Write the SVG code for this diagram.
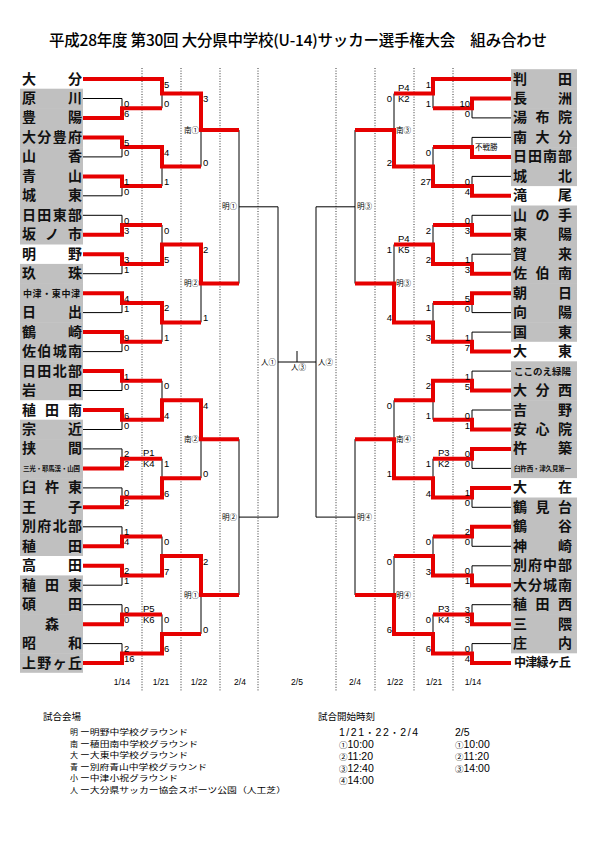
<svg xmlns="http://www.w3.org/2000/svg" width="595" height="842" viewBox="0 0 595 842">
<style>
.nm{font-family:"Noto Sans CJK JP","Noto Sans CJK SC",sans-serif;font-size:14px;font-weight:700;fill:#111}
.gb{fill:#c0c0c0}
.sc{font-family:"Liberation Sans",Arial,"Noto Sans CJK JP",sans-serif;font-size:9.5px;fill:#000}
.e{text-anchor:end}
.vn{font-family:"Noto Sans CJK JP",sans-serif;font-size:7.5px;fill:#000}
.dt{font-family:"Liberation Sans",Arial,sans-serif;font-size:8.5px;text-anchor:middle;fill:#000}
.lh{font-family:"Noto Sans CJK JP",sans-serif;font-size:9.5px;fill:#000}
.lg{font-family:"Noto Sans CJK JP",sans-serif;font-size:8px;fill:#000}
.tm{font-family:"Liberation Sans",Arial,sans-serif;font-size:10.5px;fill:#000}
.cj{font-family:"Noto Sans CJK JP",sans-serif;font-size:8.5px}
.blk{fill:none;stroke:#000;stroke-width:1}
.red{fill:none;stroke:#e60000;stroke-width:4;stroke-linejoin:miter}
.dot{stroke:#000;stroke-width:0.8;stroke-dasharray:1 1.6}
</style>
<rect width="595" height="842" fill="#fff"/>
<text x="49" y="46" textLength="498" lengthAdjust="spacing" style="font-family:'Noto Sans CJK JP',sans-serif;font-size:15.5px;font-weight:500">平成28年度 第30回 大分県中学校(U-14)サッカー選手権大会　組み合わせ</text>

<g id="grid">
<line class="dot" x1="142" y1="68" x2="142" y2="691"/>
<line class="dot" x1="181" y1="68" x2="181" y2="691"/>
<line class="dot" x1="220" y1="68" x2="220" y2="691"/>
<line class="dot" x1="258" y1="68" x2="258" y2="691"/>
<line class="dot" x1="336" y1="68" x2="336" y2="691"/>
<line class="dot" x1="375" y1="68" x2="375" y2="691"/>
<line class="dot" x1="414" y1="68" x2="414" y2="691"/>
<line class="dot" x1="453" y1="68" x2="453" y2="691"/>
</g>

<!-- left teams -->
<g id="L01"><text class="nm" x="22 68" y="83.5">大分</text></g>
<g id="L02"><rect class="gb" x="20" y="88.7" width="63" height="20"/><text class="nm" x="22 68" y="103">原川</text></g>
<g id="L03"><rect class="gb" x="20" y="108.1" width="63" height="20"/><text class="nm" x="22 68" y="122.4">豊陽</text></g>
<g id="L04"><rect class="gb" x="20" y="127.6" width="63" height="20"/><text class="nm" x="22 37.3 52.7 68" y="141.9">大分豊府</text></g>
<g id="L05"><rect class="gb" x="20" y="147.1" width="63" height="20"/><text class="nm" x="22 68" y="161.4">山香</text></g>
<g id="L06"><rect class="gb" x="20" y="166.6" width="63" height="20"/><text class="nm" x="22 68" y="180.9">青山</text></g>
<g id="L07"><rect class="gb" x="20" y="186" width="63" height="20"/><text class="nm" x="22 68" y="200.3">城東</text></g>
<g id="L08"><rect class="gb" x="20" y="205.5" width="63" height="20"/><text class="nm" x="22 37.3 52.7 68" y="219.8">日田東部</text></g>
<g id="L09"><rect class="gb" x="20" y="225" width="63" height="19.5"/><text class="nm" x="22 45 68" y="239.3">坂ノ市</text></g>
<g id="L10"><text class="nm" x="22 68" y="258.7">明野</text></g>
<g id="L11"><rect class="gb" x="20" y="263.9" width="63" height="20"/><text class="nm" x="22 68" y="278.2">玖珠</text></g>
<g id="L12"><rect class="gb" x="20" y="283.4" width="63" height="20"/><text class="nm" x="23" y="296.6" textLength="57" lengthAdjust="spacing" style="font-size:9px">中津・東中津</text></g>
<g id="L13"><rect class="gb" x="20" y="302.8" width="63" height="20"/><text class="nm" x="22 68" y="317.1">日出</text></g>
<g id="L14"><rect class="gb" x="20" y="322.3" width="63" height="20"/><text class="nm" x="22 68" y="336.6">鶴崎</text></g>
<g id="L15"><rect class="gb" x="20" y="341.8" width="63" height="20"/><text class="nm" x="22 37.3 52.7 68" y="356.1">佐伯城南</text></g>
<g id="L16"><rect class="gb" x="20" y="361.3" width="63" height="20"/><text class="nm" x="22 37.3 52.7 68" y="375.6">日田北部</text></g>
<g id="L17"><rect class="gb" x="20" y="380.7" width="63" height="19.5"/><text class="nm" x="22 68" y="395">岩田</text></g>
<g id="L18"><text class="nm" x="22 45 68" y="414.5">稙田南</text></g>
<g id="L19"><rect class="gb" x="20" y="419.7" width="63" height="20"/><text class="nm" x="22 68" y="434">宗近</text></g>
<g id="L20"><rect class="gb" x="20" y="439.1" width="63" height="20"/><text class="nm" x="22 68" y="453.4">挟間</text></g>
<g id="L21"><rect class="gb" x="20" y="458.6" width="63" height="20"/><text class="nm" x="23" y="470.8" textLength="57" lengthAdjust="spacing" style="font-size:6.5px">三光・耶馬渓・山国</text></g>
<g id="L22"><rect class="gb" x="20" y="478.1" width="63" height="20"/><text class="nm" x="22 45 68" y="492.4">臼杵東</text></g>
<g id="L23"><rect class="gb" x="20" y="497.5" width="63" height="20"/><text class="nm" x="22 68" y="511.8">王子</text></g>
<g id="L24"><rect class="gb" x="20" y="517" width="63" height="20"/><text class="nm" x="22 37.3 52.7 68" y="531.3">別府北部</text></g>
<g id="L25"><rect class="gb" x="20" y="536.5" width="63" height="19.5"/><text class="nm" x="22 68" y="550.8">稙田</text></g>
<g id="L26"><text class="nm" x="22 68" y="570.3">高田</text></g>
<g id="L27"><rect class="gb" x="20" y="575.4" width="63" height="20"/><text class="nm" x="22 45 68" y="589.7">稙田東</text></g>
<g id="L28"><rect class="gb" x="20" y="594.9" width="63" height="20"/><text class="nm" x="22 68" y="609.2">碩田</text></g>
<g id="L29"><rect class="gb" x="20" y="614.4" width="63" height="20"/><text class="nm" x="45" y="628.7">森</text></g>
<g id="L30"><rect class="gb" x="20" y="633.8" width="63" height="20"/><text class="nm" x="22 68" y="648.1">昭和</text></g>
<g id="L31"><rect class="gb" x="20" y="653.3" width="63" height="19.5"/><text class="nm" x="22 37.3 52.7 68" y="667.6">上野ヶ丘</text></g>

<!-- right teams -->
<g id="R01"><rect class="gb" x="511" y="69.2" width="66" height="20"/><text class="nm" x="513 558" y="83.5">判田</text></g>
<g id="R02"><rect class="gb" x="511" y="88.7" width="66" height="20"/><text class="nm" x="513 558" y="103">長洲</text></g>
<g id="R03"><rect class="gb" x="511" y="108.1" width="66" height="20"/><text class="nm" x="513 535.5 558" y="122.4">湯布院</text></g>
<g id="R04"><rect class="gb" x="511" y="127.6" width="66" height="20"/><text class="nm" x="513 535.5 558" y="141.9">南大分</text></g>
<g id="R05"><rect class="gb" x="511" y="147.1" width="66" height="20"/><text class="nm" x="513 528 543 558" y="161.4">日田南部</text></g>
<g id="R06"><rect class="gb" x="511" y="166.6" width="66" height="19.5"/><text class="nm" x="513 558" y="180.9">城北</text></g>
<g id="R07"><text class="nm" x="513 558" y="200.3">滝尾</text></g>
<g id="R08"><rect class="gb" x="511" y="205.5" width="66" height="20"/><text class="nm" x="513 535.5 558" y="219.8">山の手</text></g>
<g id="R09"><rect class="gb" x="511" y="225" width="66" height="20"/><text class="nm" x="513 558" y="239.3">東陽</text></g>
<g id="R10"><rect class="gb" x="511" y="244.4" width="66" height="20"/><text class="nm" x="513 558" y="258.7">賀来</text></g>
<g id="R11"><rect class="gb" x="511" y="263.9" width="66" height="20"/><text class="nm" x="513 535.5 558" y="278.2">佐伯南</text></g>
<g id="R12"><rect class="gb" x="511" y="283.4" width="66" height="20"/><text class="nm" x="513 558" y="297.7">朝日</text></g>
<g id="R13"><rect class="gb" x="511" y="302.8" width="66" height="20"/><text class="nm" x="513 558" y="317.1">向陽</text></g>
<g id="R14"><rect class="gb" x="511" y="322.3" width="66" height="19.5"/><text class="nm" x="513 558" y="336.6">国東</text></g>
<g id="R15"><text class="nm" x="513 558" y="356.1">大東</text></g>
<g id="R16"><rect class="gb" x="511" y="361.3" width="66" height="20"/><text class="nm" x="514" y="374.8" textLength="57" lengthAdjust="spacing" style="font-size:9.5px">ここのえ緑陽</text></g>
<g id="R17"><rect class="gb" x="511" y="380.7" width="66" height="20"/><text class="nm" x="513 535.5 558" y="395">大分西</text></g>
<g id="R18"><rect class="gb" x="511" y="400.2" width="66" height="20"/><text class="nm" x="513 558" y="414.5">吉野</text></g>
<g id="R19"><rect class="gb" x="511" y="419.7" width="66" height="20"/><text class="nm" x="513 535.5 558" y="434">安心院</text></g>
<g id="R20"><rect class="gb" x="511" y="439.1" width="66" height="20"/><text class="nm" x="513 558" y="453.4">杵築</text></g>
<g id="R21"><rect class="gb" x="511" y="458.6" width="66" height="19.5"/><text class="nm" x="514" y="470.8" textLength="57" lengthAdjust="spacing" style="font-size:6.5px">臼杵西・津久見第一</text></g>
<g id="R22"><text class="nm" x="513 558" y="492.4">大在</text></g>
<g id="R23"><rect class="gb" x="511" y="497.5" width="66" height="20"/><text class="nm" x="513 535.5 558" y="511.8">鶴見台</text></g>
<g id="R24"><rect class="gb" x="511" y="517" width="66" height="20"/><text class="nm" x="513 558" y="531.3">鶴谷</text></g>
<g id="R25"><rect class="gb" x="511" y="536.5" width="66" height="20"/><text class="nm" x="513 558" y="550.8">神崎</text></g>
<g id="R26"><rect class="gb" x="511" y="556" width="66" height="20"/><text class="nm" x="513 528 543 558" y="570.3">別府中部</text></g>
<g id="R27"><rect class="gb" x="511" y="575.4" width="66" height="20"/><text class="nm" x="513 528 543 558" y="589.7">大分城南</text></g>
<g id="R28"><rect class="gb" x="511" y="594.9" width="66" height="20"/><text class="nm" x="513 535.5 558" y="609.2">稙田西</text></g>
<g id="R29"><rect class="gb" x="511" y="614.4" width="66" height="20"/><text class="nm" x="513 558" y="628.7">三隈</text></g>
<g id="R30"><rect class="gb" x="511" y="633.8" width="66" height="19.5"/><text class="nm" x="513 558" y="648.1">庄内</text></g>
<g id="R31"><text class="nm" x="514 525.25 536.5 547.75 559" y="667.3" style="font-size:12px">中津緑ヶ丘</text></g>

<g id="connectors">
<path class="blk" d="M83 79H162
M83 98.5H122V117.9H83M122 108.2H162
M83 137.4H122V156.9H83M122 147.1H162
M83 176.4H122V195.8H83M122 186.1H162
M83 215.3H122V234.8H83M122 225H162
M83 254.2H122V273.7H83M122 264H162
M83 293.2H122V312.6H83M122 302.9H162
M83 332.1H122V351.6H83M122 341.8H162
M83 371.1H122V390.5H83M122 380.8H162
M83 410H122V429.5H83M122 419.7H162
M83 448.9H122V468.4H83M122 458.7H162
M83 487.9H122V507.3H83M122 497.6H162
M83 526.8H122V546.3H83M122 536.5H162
M83 565.8H122V585.2H83M122 575.5H162
M83 604.7H122V624.2H83M122 614.4H162
M83 643.6H122V663.1H83M122 653.4H162
M162 79V108.2M162 93.6H201
M162 147.1V186.1M162 166.6H201
M162 225V264M162 244.5H201
M162 302.9V341.8M162 322.4H201
M162 380.8V419.7M162 400.3H201
M162 458.7V497.6M162 478.2H201
M162 536.5V575.5M162 556H201
M162 614.4V653.4M162 633.9H201
M201 93.6V166.6M201 130.1H239
M201 244.5V322.4M201 283.5H239
M201 400.3V478.2M201 439.2H239
M201 556V633.9M201 595H239
M239 130.1V283.5M239 206.8H278
M239 439.2V595M239 517.1H278
M278 206.8V517.1M278 362H316M297 351V362
M316 206.8V517.1
M355 130.1V283.5M355 206.8H316
M355 439.2V595M355 517.1H316
M394 93.6V166.6M394 130.1H355
M394 244.5V322.4M394 283.5H355
M394 400.3V478.2M394 439.2H355
M394 556V633.9M394 595H355
M433 79V108.2M433 93.6H394
M433 147.1V186.1M433 166.6H394
M433 225V264M433 244.5H394
M433 302.9V341.8M433 322.4H394
M433 380.8V419.7M433 400.3H394
M433 458.7V497.6M433 478.2H394
M433 536.5V575.5M433 556H394
M433 614.4V653.4M433 633.9H394
M511 79H433
M511 98.5H472V117.9H511M472 108.2H433
M511 137.4H472V156.9H511M472 147.1H433
M511 176.4H472V195.8H511M472 186.1H433
M511 215.3H472V234.8H511M472 225H433
M511 254.2H472V273.7H511M472 264H433
M511 293.2H472V312.6H511M472 302.9H433
M511 332.1H472V351.6H511M472 341.8H433
M511 371.1H472V390.5H511M472 380.8H433
M511 410H472V429.5H511M472 419.7H433
M511 448.9H472V468.4H511M472 458.7H433
M511 487.9H472V507.3H511M472 497.6H433
M511 526.8H472V546.3H511M472 536.5H433
M511 565.8H472V585.2H511M472 575.5H433
M511 604.7H472V624.2H511M472 614.4H433
M511 643.6H472V663.1H511M472 653.4H433"/>
<path class="red" d="M83 79H162V93.6H201V130.1H239
M83 117.9H122V108.2H162
M83 137.4H122V147.1H162V166.6H201
M83 176.4H122V186.1H162
M83 234.8H122V225H162
M83 254.2H122V264H162V244.5H201V283.5H239
M83 293.2H122V302.9H162V322.4H201
M83 332.1H122V341.8H162
M83 371.1H122V380.8H162
M83 410H122V419.7H162V400.3H201V439.2H239
M83 468.4H122V458.7H162
M83 507.3H122V497.6H162V478.2H201
M83 546.3H122V536.5H162
M83 565.8H122V575.5H162V556H201V595H239
M83 624.2H122V614.4H162
M83 663.1H122V653.4H162V633.9H201
M511 79H433V93.6H394
M511 98.5H472V108.2H433
M511 156.9H472V147.1H433
M511 195.8H472V186.1H433V166.6H394V130.1H355
M511 234.8H472V225H433
M511 273.7H472V264H433V244.5H394
M511 293.2H472V302.9H433
M511 351.6H472V341.8H433V322.4H394V283.5H355
M511 390.5H472V380.8H433V400.3H394
M511 429.5H472V419.7H433
M511 448.9H472V458.7H433
M511 487.9H472V497.6H433V478.2H394V439.2H355
M511 526.8H472V536.5H433
M511 585.2H472V575.5H433V556H394
M511 624.2H472V614.4H433
M511 663.1H472V653.4H433V633.9H394V595H355"/>
</g>

<g id="scores-left" class="sc">
<text x="124" y="107">0</text><text x="124" y="116.9">6</text>
<text x="124" y="145.9">5</text><text x="124" y="155.9">0</text>
<text x="124" y="184.9">1</text><text x="124" y="194.8">0</text>
<text x="124" y="223.8">0</text><text x="124" y="233.8">3</text>
<text x="124" y="262.7">3</text><text x="124" y="272.7">1</text>
<text x="124" y="301.7">4</text><text x="124" y="311.6">1</text>
<text x="124" y="340.6">9</text><text x="124" y="350.6">0</text>
<text x="124" y="379.6">1</text><text x="124" y="389.5">0</text>
<text x="124" y="418.5">6</text><text x="124" y="428.5">0</text>
<text x="124" y="457.4">2</text><text x="124" y="467.4">2</text>
<text x="124" y="496.4">0</text><text x="124" y="506.3">2</text>
<text x="124" y="535.3">1</text><text x="124" y="545.3">4</text>
<text x="124" y="574.3">2</text><text x="124" y="584.2">1</text>
<text x="124" y="613.2">0</text><text x="124" y="623.2">0</text>
<text x="124" y="652.1">2</text><text x="124" y="662.1">16</text>
<text x="164" y="87.5">5</text><text x="164" y="107.2">0</text>
<text x="164" y="155.6">4</text><text x="164" y="185.1">1</text>
<text x="164" y="233.5">0</text><text x="164" y="263">5</text>
<text x="164" y="311.4">2</text><text x="164" y="340.8">1</text>
<text x="164" y="389.3">0</text><text x="164" y="418.7">4</text>
<text x="164" y="467.2">1</text><text x="164" y="496.6">6</text>
<text x="164" y="545">0</text><text x="164" y="574.5">7</text>
<text x="164" y="622.9">0</text><text x="164" y="652.4">6</text>
<text x="203" y="102.1">3</text><text x="203" y="165.6">0</text>
<text x="203" y="253">2</text><text x="203" y="321.4">1</text>
<text x="203" y="408.8">4</text><text x="203" y="477.2">0</text>
<text x="203" y="564.5">2</text><text x="203" y="632.9">0</text>
<text x="143" y="456">P1</text><text x="143" y="467.4">K4</text>
<text x="143" y="611.7">P5</text><text x="143" y="623.1">K6</text>
</g>

<g id="scores-right" class="sc e">
<text x="470" y="107">10</text><text x="470" y="116.9">0</text>
<text x="470" y="184.9">0</text><text x="470" y="194.8">4</text>
<text x="470" y="223.8">0</text><text x="470" y="233.8">3</text>
<text x="470" y="262.7">1</text><text x="470" y="272.7">3</text>
<text x="470" y="301.7">5</text><text x="470" y="311.6">0</text>
<text x="470" y="340.6">1</text><text x="470" y="350.6">7</text>
<text x="470" y="379.6">1</text><text x="470" y="389.5">5</text>
<text x="470" y="418.5">0</text><text x="470" y="428.5">1</text>
<text x="470" y="457.4">0</text><text x="470" y="467.4">0</text>
<text x="470" y="496.4">1</text><text x="470" y="506.3">0</text>
<text x="470" y="535.3">2</text><text x="470" y="545.3">0</text>
<text x="470" y="574.3">0</text><text x="470" y="584.2">1</text>
<text x="470" y="613.2">3</text><text x="470" y="623.2">3</text>
<text x="470" y="652.1">0</text><text x="470" y="662.1">4</text>
<text x="431" y="87.5">1</text><text x="431" y="107.2">1</text>
<text x="431" y="155.6">0</text><text x="431" y="185.1">27</text>
<text x="431" y="233.5">2</text><text x="431" y="263">2</text>
<text x="431" y="311.4">1</text><text x="431" y="340.8">3</text>
<text x="431" y="389.3">2</text><text x="431" y="418.7">1</text>
<text x="431" y="467.2">1</text><text x="431" y="496.6">4</text>
<text x="431" y="545">0</text><text x="431" y="574.5">3</text>
<text x="431" y="622.9">0</text><text x="431" y="652.4">6</text>
<text x="392" y="102.1">0</text><text x="392" y="165.6">2</text>
<text x="392" y="253">1</text><text x="392" y="321.4">4</text>
<text x="392" y="408.8">0</text><text x="392" y="477.2">1</text>
<text x="392" y="564.5">0</text><text x="392" y="632.9">6</text>
</g>
<g id="pk-right" class="sc">
<text x="398" y="91">P4</text><text x="398" y="102.3">K2</text>
<text x="398" y="241.9">P4</text><text x="398" y="253.2">K5</text>
<text x="438" y="456">P3</text><text x="438" y="467.4">K2</text>
<text x="438" y="611.7">P3</text><text x="438" y="623.1">K4</text>
</g>
<text class="vn" x="475" y="150" style="font-size:7.5px">不戦勝</text>

<g id="venues" class="vn">
<text x="199" y="132.6" text-anchor="end">南①</text>
<text x="199" y="286" text-anchor="end">明②</text>
<text x="199" y="441.7" text-anchor="end">南②</text>
<text x="199" y="597.5" text-anchor="end">明①</text>
<text x="237" y="209.3" text-anchor="end">明①</text>
<text x="237" y="519.6" text-anchor="end">明②</text>
<text x="276" y="364.5" text-anchor="end">人①</text>
<text x="396" y="132.6">南③</text>
<text x="396" y="286">明③</text>
<text x="396" y="441.7">南④</text>
<text x="396" y="597.5">明④</text>
<text x="357" y="209.3">明③</text>
<text x="357" y="519.6">明④</text>
<text x="318" y="364.5">人②</text>
<text x="298.5" y="370" text-anchor="middle">人③</text>
</g>

<g id="dates" class="dt">
<text x="122" y="685">1/14</text>
<text x="161" y="685">1/21</text>
<text x="199" y="685">1/22</text>
<text x="240" y="685">2/4</text>
<text x="297" y="685">2/5</text>
<text x="355" y="685">2/4</text>
<text x="395" y="685">1/22</text>
<text x="434" y="685">1/21</text>
<text x="473" y="685">1/14</text>
</g>

<g id="legend-venue">
<text class="lh" x="43" y="719.5">試合会場</text>
<text class="lg" x="70" y="735">明</text><text class="lg" x="80" y="735" textLength="108" lengthAdjust="spacingAndGlyphs">ー明野中学校グラウンド</text>
<text class="lg" x="70" y="746.5">南</text><text class="lg" x="80" y="746.5" textLength="118" lengthAdjust="spacingAndGlyphs">ー稙田南中学校グラウンド</text>
<text class="lg" x="70" y="758">大</text><text class="lg" x="80" y="758" textLength="108" lengthAdjust="spacingAndGlyphs">ー大東中学校グラウンド</text>
<text class="lg" x="70" y="769.5">青</text><text class="lg" x="80" y="769.5" textLength="127" lengthAdjust="spacingAndGlyphs">ー別府青山中学校グラウンド</text>
<text class="lg" x="70" y="781">小</text><text class="lg" x="80" y="781" textLength="98" lengthAdjust="spacingAndGlyphs">ー中津小祝グラウンド</text>
<text class="lg" x="70" y="792.5">人</text><text class="lg" x="80" y="792.5" textLength="206" lengthAdjust="spacingAndGlyphs">ー大分県サッカー協会スポーツ公園（人工芝）</text>
</g>
<g id="legend-time">
<text class="lh" x="318" y="719.5">試合開始時刻</text>
<text class="tm" x="339" y="736" textLength="79" lengthAdjust="spacing">1/21<tspan class="cj">・</tspan>22<tspan class="cj">・</tspan>2/4</text>
<text class="tm" x="339" y="748"><tspan class="cj">①</tspan>10:00</text>
<text class="tm" x="339" y="760"><tspan class="cj">②</tspan>11:20</text>
<text class="tm" x="339" y="772"><tspan class="cj">③</tspan>12:40</text>
<text class="tm" x="339" y="784"><tspan class="cj">④</tspan>14:00</text>
<text class="tm" x="455" y="736">2/5</text>
<text class="tm" x="455" y="748"><tspan class="cj">①</tspan>10:00</text>
<text class="tm" x="455" y="760"><tspan class="cj">②</tspan>11:20</text>
<text class="tm" x="455" y="772"><tspan class="cj">③</tspan>14:00</text>
</g>
</svg>
